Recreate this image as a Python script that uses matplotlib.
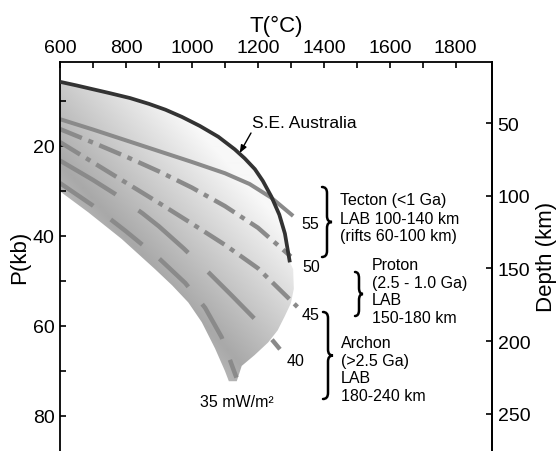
import numpy as np
import matplotlib
matplotlib.use('Agg')
import matplotlib.pyplot as plt
from matplotlib.path import Path
from matplotlib.patches import PathPatch, Polygon

plt.rcParams['font.family'] = ['Liberation Sans', 'DejaVu Sans']
plt.rcParams['lines.scale_dashes'] = False

# ---------------- data (T in degC, P in kb) ----------------
T_se = [600, 650, 691, 750, 812, 870, 920, 970, 1024, 1080, 1130, 1160, 1191, 1215, 1241, 1265, 1282, 1297]
P_se = [5.8, 6.6, 7.3, 8.3, 9.4, 10.7, 12.0, 13.6, 15.6, 18.0, 20.8, 22.8, 25.2, 27.8, 31.3, 35.3, 39.5, 45.9]

T_55 = [600, 700, 800, 900, 1000, 1100, 1175, 1240, 1307]
P_55 = [14.1, 16.4, 18.8, 21.2, 23.6, 26.1, 28.5, 31.5, 35.6]

T_50 = [600, 700, 800, 900, 1000, 1100, 1200, 1300]
P_50 = [16.3, 19.3, 22.4, 25.7, 29.3, 33.4, 38.2, 44.6]

T_45 = [600, 700, 800, 900, 1000, 1100, 1200, 1320]
P_45 = [19.2, 23.7, 28.2, 32.7, 37.3, 42.0, 47.2, 55.8]

T_40 = [600, 700, 767, 850, 900, 975, 1050, 1120, 1191, 1267]
P_40 = [23.3, 27.6, 30.7, 35.0, 37.9, 42.8, 48.1, 53.2, 58.5, 65.2]

T_35 = [600, 700, 800, 900, 980, 1040, 1090, 1135]
P_35 = [28.3, 33.3, 39.0, 45.0, 50.5, 56.0, 62.5, 71.5]

# shaded field of geotherms (outline: SE Australia on top, then right edge, then lower-left edge)
shade_T = T_se + [1307, 1309, 1300, 1282, 1260, 1231, 1190, 1151, 1136, 1112,
                  1100, 1070, 1030, 989, 940, 888, 787, 686, 605, 600]
shade_P = P_se + [47.4, 51.8, 55.0, 57.8, 61.0, 63.7, 66.5, 68.9, 72.3, 72.3,
                  70.0, 65.0, 59.2, 54.8, 51.0, 47.4, 40.7, 34.8, 30.4, 29.8]

x_major = [600, 800, 1000, 1200, 1400, 1600, 1800]
x_minor = [700, 900, 1100, 1300, 1500, 1700]
y_major = [20, 40, 60, 80]
y_minor = [10, 30, 50, 70]
depth_ticks = [50, 100, 150, 200, 250]

# ---------------- figure ----------------
W, H = 560, 452
fig = plt.figure(figsize=(W / 100, H / 100), dpi=100)
L, R, TOP = 60, 492, 62.7
ax = fig.add_axes([L / W, 0, (R - L) / W, 1 - TOP / H])
XMIN, XMAX = 600, 1910
YTOP, YBOT = 1.33, 87.8
ax.set_xlim(XMIN, XMAX)
ax.set_ylim(YBOT, YTOP)

def fx(x):
    return x / W

def fy(y):
    return 1 - y / H

# gradient shading clipped to field outline
ny, nx = int(round(H - TOP)), R - L
yy = TOP + np.arange(ny)[:, None] + 0.5
xx = L + np.arange(nx)[None, :] + 0.5
proj = ((xx - 120) * 190 - (yy - 230) * 170) / 255.0
gray = 0.66 + 0.25 * np.clip(proj / 100.0, 0, 1.25) + 0.0025 * np.clip(-proj, 0, 40)
im = ax.imshow(gray, cmap='gray', vmin=0, vmax=1, extent=(XMIN, XMAX, YBOT, YTOP),
               origin='upper', aspect='auto', interpolation='bilinear', zorder=0)
poly = Polygon(np.column_stack([shade_T, shade_P]), closed=True, facecolor='none',
               edgecolor='none', transform=ax.transData)
ax.add_patch(poly)
im.set_clip_path(poly)

gcol = '#8a8a8a'
ax.plot(T_55, P_55, color=gcol, lw=2.9, solid_capstyle='butt', solid_joinstyle='round', zorder=2)
ax.plot(T_50, P_50, color=gcol, lw=3.2, dashes=[17, 5, 3.6, 5], zorder=2)
ax.plot(T_45, P_45, color=gcol, lw=3.2, dashes=[17, 5, 3.6, 5], zorder=2)
ax.plot(T_40, P_40, color=gcol, lw=3.2, dashes=[47, 20], zorder=2)
ax.plot(T_35, P_35, color=gcol, lw=3.2, dashes=[29, 16], zorder=2)
ax.plot(T_se, P_se, color='#333333', lw=2.7, solid_capstyle='butt',
        solid_joinstyle='round', zorder=3)

# axes styling
ax.xaxis.tick_top()
ax.xaxis.set_label_position('top')
ax.set_xticks(x_major)
ax.set_xticks(x_minor, minor=True)
ax.set_yticks(y_major)
ax.set_yticks(y_minor, minor=True)
for which in ('major', 'minor'):
    ax.tick_params(axis='both', which=which, direction='in', length=4.5, width=1.2,
                   labelsize=14, pad=4)
ax.tick_params(axis='y', right=False)
ax.spines['bottom'].set_visible(False)
for s in ('top', 'left', 'right'):
    ax.spines[s].set_linewidth(1.3)
ax.set_xlabel('T(°C)', fontsize=16, labelpad=6)
ax.set_ylabel('P(kb)', fontsize=16, labelpad=2)

def p2d(p):
    return 50 + (np.asarray(p) - 15.0) * 200 / 64.5

def d2p(d):
    return 15.0 + (np.asarray(d) - 50) * 64.5 / 200

sec = ax.secondary_yaxis('right', functions=(p2d, d2p))
sec.set_yticks(depth_ticks)
sec.tick_params(direction='in', length=4.5, width=1.2, labelsize=14, pad=4)
sec.spines['right'].set_linewidth(1.3)
sec.set_ylabel('Depth (km)', fontsize=16, labelpad=4)

# annotations
fs = 11.5
fig.text(fx(252), fy(124), 'S.E. Australia', fontsize=12.5, ha='left', va='center')
ax.annotate('', xy=(1145, 21.6), xycoords='data', xytext=(fx(251), fy(134)),
            textcoords='figure fraction',
            arrowprops=dict(arrowstyle='-|>,head_length=0.45,head_width=0.18',
                            color='black', lw=1.0, shrinkA=0, shrinkB=0))

fig.text(fx(301), fy(225), '55', fontsize=fs, ha='left', va='center')
fig.text(fx(302), fy(268), '50', fontsize=fs, ha='left', va='center')
fig.text(fx(302), fy(315), '45', fontsize=fs, ha='left', va='center')
fig.text(fx(287), fy(362), '40', fontsize=fs, ha='left', va='center')
fig.text(fx(200), fy(403), '35 mW/m²', fontsize=fs, ha='left', va='center')

fig.text(fx(340), fy(219), 'Tecton (<1 Ga)\nLAB 100-140 km\n(rifts 60-100 km)',
         fontsize=fs, ha='left', va='center', linespacing=1.25)
fig.text(fx(372), fy(292), 'Proton\n(2.5 - 1.0 Ga)\nLAB\n150-180 km',
         fontsize=fs, ha='left', va='center', linespacing=1.2)
fig.text(fx(341), fy(370), 'Archon\n(>2.5 Ga)\nLAB\n180-240 km',
         fontsize=fs, ha='left', va='center', linespacing=1.22)

def brace(x0, y1, y2, w):
    hgt = y2 - y1
    s = min(6.0, hgt / 6)
    m = y1 + hgt / 2
    pts = [(x0, y1), (x0 + w / 2, y1), (x0 + w / 2, y1 + s),
           (x0 + w / 2, m - s),
           (x0 + w / 2, m), (x0 + w, m),
           (x0 + w / 2, m), (x0 + w / 2, m + s),
           (x0 + w / 2, y2 - s),
           (x0 + w / 2, y2), (x0, y2)]
    codes = [Path.MOVETO, Path.CURVE3, Path.CURVE3, Path.LINETO,
             Path.CURVE3, Path.CURVE3, Path.CURVE3, Path.CURVE3,
             Path.LINETO, Path.CURVE3, Path.CURVE3]
    verts = [(fx(px), fy(py)) for px, py in pts]
    patch = PathPatch(Path(verts, codes), facecolor='none', edgecolor='black',
                      lw=1.8, transform=fig.transFigure, capstyle='round')
    fig.add_artist(patch)

brace(322, 188, 258, 10)
brace(355, 273, 317, 8)
brace(323, 313, 400, 10)

fig.savefig('out.png', dpi=100)
